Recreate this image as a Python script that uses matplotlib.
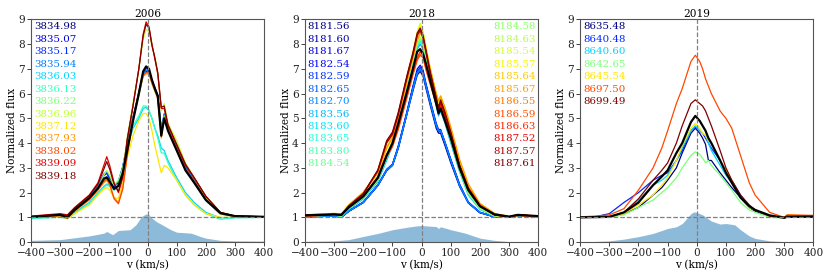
import numpy as np
import matplotlib
matplotlib.use("Agg")
import matplotlib.pyplot as plt

plt.rcParams['font.family'] = ['DejaVu Serif']
plt.rcParams['font.size'] = 7.4

# ---------------- 2006 ----------------
v06 = [-400, -300, -275, -250, -200, -170, -150, -140, -130, -115, -100, -85, -70, -50, -30, -15, -5,
       5, 15, 25, 35, 47, 57, 70, 100, 130, 160, 200, 250, 300, 400]
labels06 = ["3834.98", "3835.07", "3835.17", "3835.94", "3836.03", "3836.13", "3836.22",
            "3836.96", "3837.12", "3837.93", "3838.02", "3839.09", "3839.18"]
f06_3834_98 = [1.02, 1.1, 1.02, 1.3, 1.8, 2.25, 2.7, 2.8, 2.6, 2.25, 2.4, 3.0, 3.9, 5.0, 6.0, 6.8, 6.95, 6.9, 6.5, 6.2, 5.9, 4.5, 5.1, 4.6, 3.8, 3.0, 2.45, 1.7, 1.15, 1.05, 1.02]
f06_3835_07 = [1.03, 1.1, 1.03, 1.32, 1.82, 2.28, 2.72, 2.85, 2.62, 2.28, 2.45, 3.05, 3.95, 5.05, 6.05, 6.9, 7.05, 6.95, 6.55, 6.25, 5.95, 4.4, 5.15, 4.65, 3.85, 3.05, 2.5, 1.72, 1.15, 1.05, 1.03]
f06_3835_17 = [1.02, 1.08, 1.0, 1.28, 1.78, 2.22, 2.68, 2.78, 2.55, 2.2, 2.38, 2.98, 3.88, 4.95, 5.95, 6.75, 6.9, 6.85, 6.45, 6.15, 5.85, 4.45, 5.05, 4.55, 3.78, 2.98, 2.42, 1.68, 1.14, 1.04, 1.02]
f06_3835_94 = [1.02, 1.1, 1.02, 1.3, 1.82, 2.3, 2.75, 2.85, 2.65, 2.3, 2.45, 3.05, 3.95, 5.0, 6.0, 6.8, 6.95, 6.9, 6.5, 6.2, 5.9, 4.6, 5.2, 4.7, 3.85, 3.05, 2.5, 1.72, 1.16, 1.05, 1.02]
f06_3836_03 = [1.0, 1.05, 1.0, 1.2, 1.6, 2.0, 2.25, 2.35, 2.3, 2.1, 2.3, 2.9, 3.8, 4.6, 5.0, 5.4, 5.45, 5.3, 5.0, 4.6, 4.3, 3.8, 3.7, 3.3, 2.6, 2.0, 1.6, 1.2, 0.98, 1.0, 1.0]
f06_3836_13 = [0.95, 1.0, 0.95, 1.15, 1.55, 1.95, 2.2, 2.3, 2.25, 2.1, 2.3, 2.9, 3.8, 4.7, 5.1, 5.5, 5.5, 5.3, 5.0, 4.6, 4.2, 3.6, 3.6, 3.2, 2.5, 1.9, 1.5, 1.15, 0.92, 0.98, 1.0]
f06_3836_22 = [1.02, 1.08, 1.02, 1.28, 1.75, 2.2, 2.5, 2.6, 2.5, 2.3, 2.5, 3.0, 3.9, 5.0, 5.9, 6.7, 6.85, 6.8, 6.4, 6.1, 5.8, 4.5, 5.1, 4.6, 3.75, 2.95, 2.4, 1.68, 1.12, 1.03, 1.02]
f06_3836_96 = [1.05, 1.1, 1.05, 1.3, 1.8, 2.2, 2.7, 2.9, 2.7, 2.3, 2.3, 2.9, 4.2, 5.6, 7.0, 8.2, 8.6, 8.5, 7.9, 7.5, 6.8, 5.3, 5.6, 4.8, 4.1, 3.2, 2.6, 1.8, 1.2, 1.05, 1.03]
f06_3837_12 = [1.0, 1.02, 0.98, 1.15, 1.5, 1.9, 2.15, 2.2, 2.1, 1.8, 1.75, 2.4, 3.4, 4.3, 4.9, 5.2, 5.2, 5.0, 4.5, 3.9, 3.4, 2.8, 3.1, 3.0, 2.5, 1.9, 1.5, 1.15, 1.0, 1.0, 1.0]
f06_3837_93 = [1.0, 1.05, 0.95, 1.25, 1.7, 2.1, 2.4, 2.5, 2.3, 1.8, 1.6, 2.2, 3.5, 4.9, 6.0, 6.7, 6.8, 6.8, 6.4, 6.1, 5.8, 4.2, 5.0, 4.5, 3.7, 2.9, 2.4, 1.7, 1.15, 1.03, 1.02]
f06_3838_02 = [1.02, 1.08, 0.98, 1.28, 1.72, 2.12, 2.45, 2.55, 2.35, 1.75, 1.55, 2.15, 3.5, 4.95, 6.05, 6.75, 6.85, 6.85, 6.45, 6.15, 5.85, 4.3, 5.05, 4.55, 3.75, 2.95, 2.45, 1.72, 1.16, 1.04, 1.02]
f06_3839_09 = [1.05, 1.15, 1.1, 1.4, 1.9, 2.4, 3.1, 3.45, 3.1, 2.4, 2.0, 2.6, 4.1, 5.5, 7.0, 8.4, 8.9, 8.7, 8.0, 7.4, 6.8, 5.4, 5.4, 4.7, 3.9, 3.1, 2.6, 1.85, 1.2, 1.05, 1.02]
f06_3839_18 = [1.04, 1.12, 1.08, 1.38, 1.88, 2.35, 2.95, 3.25, 2.95, 2.35, 2.05, 2.7, 4.15, 5.5, 7.0, 8.35, 8.8, 8.65, 7.95, 7.45, 6.85, 5.45, 5.5, 4.75, 3.95, 3.15, 2.6, 1.85, 1.2, 1.05, 1.02]
mean06 = [1.01, 1.1, 1.0, 1.3, 1.78, 2.18, 2.56, 2.62, 2.45, 2.15, 2.27, 2.8, 3.7, 4.9, 6.0, 6.9, 7.1, 7.0, 6.55, 6.2, 5.9, 4.3, 5.0, 4.5, 3.7, 2.9, 2.4, 1.7, 1.17, 1.05, 1.02]
series06 = [f06_3834_98, f06_3835_07, f06_3835_17, f06_3835_94, f06_3836_03, f06_3836_13, f06_3836_22,
            f06_3836_96, f06_3837_12, f06_3837_93, f06_3838_02, f06_3839_09, f06_3839_18]
vfill06 = [-400, -300, -200, -150, -140, -120, -100, -60, -40, -20, -5, 5, 15, 30, 50, 80, 100, 150, 180, 200, 250, 300, 400]
fill06 = [0.07, 0.1, 0.25, 0.36, 0.43, 0.3, 0.47, 0.5, 0.7, 1.04, 1.14, 1.1, 0.97, 0.83, 0.7, 0.5, 0.4, 0.36, 0.23, 0.16, 0.07, 0.05, 0.04]

# ---------------- 2018 ----------------
v18 = [-400, -300, -275, -250, -200, -150, -120, -100, -80, -50, -30, -15, -5, 5, 15, 30, 50, 58, 65, 80,
       100, 130, 160, 200, 250, 300, 330, 400]
labels18 = ["8181.56", "8181.60", "8181.67", "8182.54", "8182.59", "8182.65", "8182.70", "8183.56",
            "8183.60", "8183.65", "8183.80", "8184.54", "8184.58", "8184.63", "8185.54", "8185.57",
            "8185.64", "8185.67", "8186.55", "8186.59", "8186.63", "8187.52", "8187.57", "8187.61"]
f18_8181_56 = [1.02, 1.05, 1.02, 1.25, 1.6, 2.3, 2.9, 3.1, 3.8, 5.2, 6.1, 6.75, 6.9, 6.7, 6.2, 5.5, 4.6, 4.4, 4.4, 3.9, 3.2, 2.25, 1.58, 1.18, 1.02, 1.0, 1.05, 1.03]
f18_8181_60 = [1.02, 1.06, 1.03, 1.26, 1.62, 2.32, 2.92, 3.12, 3.85, 5.25, 6.25, 6.9, 7.05, 6.85, 6.35, 5.65, 4.75, 4.5, 4.5, 4.0, 3.3, 2.3, 1.6, 1.2, 1.02, 1.0, 1.05, 1.03]
f18_8181_67 = [1.03, 1.05, 1.02, 1.25, 1.6, 2.3, 2.88, 3.1, 3.8, 5.2, 6.2, 6.85, 7.0, 6.8, 6.3, 5.6, 4.7, 4.45, 4.5, 4.0, 3.3, 2.3, 1.6, 1.2, 1.02, 1.0, 1.05, 1.03]
f18_8182_54 = [1.02, 1.05, 1.0, 1.24, 1.6, 2.28, 2.9, 3.15, 3.9, 5.3, 6.3, 7.0, 7.15, 6.95, 6.4, 5.7, 4.8, 4.55, 4.55, 4.05, 3.35, 2.35, 1.62, 1.2, 1.02, 1.0, 1.05, 1.03]
f18_8182_59 = [1.02, 1.05, 1.02, 1.25, 1.62, 2.3, 2.92, 3.12, 3.85, 5.25, 6.22, 6.88, 7.05, 6.85, 6.32, 5.62, 4.72, 4.5, 4.52, 4.02, 3.32, 2.32, 1.6, 1.2, 1.02, 1.0, 1.05, 1.03]
f18_8182_65 = [1.02, 1.05, 1.02, 1.26, 1.62, 2.32, 2.95, 3.15, 3.85, 5.2, 6.15, 6.8, 6.95, 6.8, 6.3, 5.6, 4.7, 4.48, 4.5, 4.0, 3.3, 2.3, 1.6, 1.2, 1.02, 1.0, 1.05, 1.03]
f18_8182_70 = [1.02, 1.05, 1.02, 1.25, 1.6, 2.3, 2.9, 3.1, 3.82, 5.22, 6.2, 6.85, 7.0, 6.82, 6.3, 5.62, 4.72, 4.5, 4.5, 4.02, 3.3, 2.3, 1.6, 1.2, 1.02, 1.0, 1.05, 1.03]
f18_8183_56 = [1.04, 1.08, 1.04, 1.32, 1.75, 2.45, 3.3, 3.9, 4.7, 6.2, 7.1, 7.8, 8.0, 7.8, 7.3, 6.5, 5.5, 5.1, 5.3, 4.8, 4.0, 2.85, 1.9, 1.32, 1.05, 1.0, 1.08, 1.05]
f18_8183_60 = [1.05, 1.1, 1.05, 1.35, 1.8, 2.5, 3.4, 4.0, 4.8, 6.3, 7.2, 7.9, 8.1, 7.9, 7.4, 6.6, 5.6, 5.2, 5.4, 4.9, 4.1, 2.9, 1.95, 1.35, 1.05, 1.0, 1.08, 1.05]
f18_8183_65 = [1.05, 1.1, 1.05, 1.35, 1.8, 2.5, 3.4, 4.0, 4.85, 6.35, 7.3, 8.0, 8.2, 8.0, 7.45, 6.65, 5.6, 5.2, 5.4, 4.9, 4.1, 2.9, 1.95, 1.35, 1.05, 1.0, 1.08, 1.05]
f18_8183_80 = [1.05, 1.1, 1.05, 1.35, 1.8, 2.5, 3.45, 4.05, 4.85, 6.4, 7.35, 8.05, 8.25, 8.05, 7.5, 6.7, 5.65, 5.25, 5.45, 4.95, 4.15, 2.95, 1.98, 1.36, 1.06, 1.0, 1.08, 1.05]
f18_8184_54 = [1.05, 1.1, 1.05, 1.35, 1.8, 2.5, 3.4, 4.0, 4.8, 6.3, 7.25, 7.95, 8.15, 7.95, 7.4, 6.6, 5.6, 5.2, 5.4, 4.9, 4.1, 2.9, 1.95, 1.35, 1.05, 1.0, 1.08, 1.05]
f18_8184_58 = [1.06, 1.1, 1.06, 1.38, 1.85, 2.55, 3.5, 4.05, 4.9, 6.4, 7.35, 8.05, 8.25, 8.05, 7.5, 6.7, 5.7, 5.3, 5.5, 5.0, 4.2, 3.0, 2.0, 1.38, 1.06, 1.0, 1.08, 1.05]
f18_8184_63 = [1.06, 1.1, 1.06, 1.38, 1.85, 2.6, 3.5, 4.1, 4.95, 6.45, 7.4, 8.1, 8.3, 8.1, 7.55, 6.75, 5.75, 5.35, 5.55, 5.05, 4.25, 3.05, 2.05, 1.4, 1.07, 1.0, 1.08, 1.05]
f18_8185_54 = [1.1, 1.15, 1.15, 1.5, 2.0, 2.8, 3.8, 4.3, 5.1, 6.7, 7.7, 8.5, 8.85, 8.5, 7.9, 7.0, 6.0, 5.7, 5.9, 5.4, 4.6, 3.3, 2.3, 1.55, 1.15, 1.03, 1.1, 1.05]
f18_8185_57 = [1.1, 1.15, 1.12, 1.48, 1.98, 2.78, 3.75, 4.25, 5.05, 6.65, 7.65, 8.45, 8.75, 8.45, 7.85, 6.95, 5.95, 5.65, 5.85, 5.35, 4.55, 3.25, 2.28, 1.52, 1.14, 1.03, 1.1, 1.05]
f18_8185_64 = [1.1, 1.15, 1.15, 1.5, 2.0, 2.8, 3.8, 4.2, 5.0, 6.5, 7.5, 8.2, 8.5, 8.3, 7.8, 7.0, 6.0, 5.7, 5.9, 5.4, 4.6, 3.3, 2.3, 1.55, 1.15, 1.03, 1.1, 1.0]
f18_8185_67 = [1.1, 1.16, 1.14, 1.5, 2.02, 2.82, 3.82, 4.22, 5.02, 6.5, 7.45, 8.15, 8.45, 8.25, 7.75, 6.95, 6.0, 5.7, 5.9, 5.45, 4.65, 3.35, 2.35, 1.56, 1.16, 1.03, 1.1, 1.0]
f18_8186_55 = [1.05, 1.1, 1.1, 1.4, 1.85, 2.6, 3.5, 3.9, 4.6, 5.9, 6.8, 7.4, 7.6, 7.5, 7.0, 6.4, 5.6, 5.3, 5.5, 5.0, 4.3, 3.1, 2.2, 1.5, 1.1, 1.02, 1.08, 1.03]
f18_8186_59 = [1.05, 1.1, 1.08, 1.4, 1.85, 2.6, 3.45, 3.85, 4.55, 5.85, 6.75, 7.35, 7.55, 7.45, 6.95, 6.35, 5.55, 5.25, 5.45, 4.95, 4.25, 3.05, 2.15, 1.48, 1.1, 1.02, 1.08, 1.03]
f18_8186_63 = [1.05, 1.1, 1.1, 1.42, 1.88, 2.65, 3.55, 3.95, 4.65, 5.95, 6.85, 7.45, 7.7, 7.55, 7.05, 6.45, 5.65, 5.35, 5.55, 5.05, 4.35, 3.1, 2.2, 1.5, 1.1, 1.02, 1.08, 1.03]
f18_8187_52 = [1.08, 1.12, 1.1, 1.45, 1.95, 2.9, 4.05, 4.4, 5.2, 6.7, 7.6, 8.4, 8.6, 8.3, 7.7, 6.8, 5.8, 5.4, 5.7, 5.2, 4.4, 3.1, 2.15, 1.45, 1.1, 1.02, 1.1, 1.05]
f18_8187_57 = [1.08, 1.12, 1.1, 1.45, 1.95, 2.88, 4.0, 4.35, 5.15, 6.65, 7.55, 8.35, 8.55, 8.25, 7.65, 6.75, 5.75, 5.38, 5.65, 5.15, 4.38, 3.08, 2.12, 1.44, 1.1, 1.02, 1.1, 1.05]
f18_8187_61 = [1.08, 1.12, 1.1, 1.46, 1.96, 2.92, 4.1, 4.45, 5.25, 6.75, 7.65, 8.45, 8.65, 8.35, 7.75, 6.85, 5.85, 5.45, 5.75, 5.25, 4.45, 3.12, 2.18, 1.46, 1.1, 1.02, 1.1, 1.05]
mean18 = [1.08, 1.12, 1.1, 1.4, 1.85, 2.6, 3.5, 4.0, 4.8, 6.1, 7.0, 7.7, 7.8, 7.6, 7.2, 6.5, 5.6, 5.2, 5.4, 4.9, 4.2, 3.0, 2.1, 1.45, 1.12, 1.03, 1.1, 1.05]
series18 = [f18_8181_56, f18_8181_60, f18_8181_67, f18_8182_54, f18_8182_59, f18_8182_65, f18_8182_70,
            f18_8183_56, f18_8183_60, f18_8183_65, f18_8183_80, f18_8184_54, f18_8184_58, f18_8184_63,
            f18_8185_54, f18_8185_57, f18_8185_64, f18_8185_67, f18_8186_55, f18_8186_59, f18_8186_63,
            f18_8187_52, f18_8187_57, f18_8187_61]
vfill18 = [-400, -300, -250, -200, -150, -100, -50, -20, 0, 20, 50, 58, 65, 100, 150, 200, 250, 300, 400]
fill18 = [0.03, 0.05, 0.1, 0.23, 0.35, 0.5, 0.6, 0.65, 0.67, 0.65, 0.63, 0.55, 0.62, 0.5, 0.36, 0.16, 0.07, 0.02, 0.01]

# ---------------- 2019 ----------------
v19 = [-400, -350, -300, -250, -200, -150, -120, -100, -70, -50, -20, -5, 10, 20, 30, 40, 50, 80, 100,
       120, 150, 180, 200, 250, 300, 310, 400]
labels19 = ["8635.48", "8640.48", "8640.60", "8642.65", "8645.54", "8697.50", "8699.49"]
f19_8635_48 = [1.0, 1.02, 1.0, 1.15, 1.4, 1.9, 2.2, 2.5, 3.0, 3.6, 4.4, 4.6, 4.4, 4.2, 3.95, 3.3, 3.3, 2.8, 2.5, 2.2, 1.8, 1.4, 1.25, 1.05, 1.0, 1.0, 1.0]
f19_8640_48 = [1.0, 1.02, 1.15, 1.6, 2.0, 2.5, 2.7, 2.8, 3.3, 3.7, 4.5, 4.65, 4.5, 4.4, 4.2, 4.0, 3.8, 3.3, 2.9, 2.5, 1.9, 1.45, 1.3, 1.05, 1.0, 1.0, 1.0]
f19_8640_60 = [1.0, 1.0, 1.02, 1.2, 1.7, 2.3, 2.5, 2.7, 3.3, 3.8, 4.5, 4.7, 4.5, 4.4, 4.3, 4.0, 3.7, 3.1, 2.7, 2.4, 1.8, 1.4, 1.3, 1.05, 1.0, 1.0, 1.0]
f19_8642_65 = [1.0, 1.0, 1.0, 1.1, 1.4, 1.7, 2.0, 2.2, 2.6, 3.0, 3.5, 3.65, 3.55, 3.4, 3.2, 3.3, 3.1, 2.7, 2.4, 2.1, 1.6, 1.3, 1.2, 1.0, 0.98, 1.0, 1.0]
f19_8645_54 = [1.0, 1.0, 1.0, 1.15, 1.5, 1.9, 2.3, 2.6, 3.3, 3.9, 4.6, 4.8, 4.6, 4.4, 4.3, 4.1, 4.0, 3.3, 2.9, 2.5, 1.8, 1.4, 1.3, 1.05, 1.0, 1.1, 1.05]
f19_8697_50 = [1.02, 1.05, 1.1, 1.35, 2.1, 3.0, 3.8, 4.5, 5.6, 6.2, 7.3, 7.55, 7.3, 7.0, 6.6, 6.3, 6.0, 5.3, 5.0, 4.6, 3.5, 2.4, 1.9, 1.2, 1.0, 1.1, 1.08]
f19_8699_49 = [1.0, 1.0, 1.02, 1.2, 1.75, 2.5, 2.9, 3.2, 4.0, 4.7, 5.6, 5.75, 5.6, 5.5, 5.3, 5.0, 4.7, 3.7, 3.0, 2.5, 1.9, 1.5, 1.3, 1.05, 1.0, 1.0, 1.0]
mean19 = [1.0, 1.01, 1.02, 1.2, 1.6, 2.3, 2.65, 2.9, 3.6, 4.0, 4.85, 5.1, 4.9, 4.7, 4.5, 4.2, 4.0, 3.3, 2.8, 2.4, 1.8, 1.45, 1.3, 1.08, 0.98, 1.03, 1.03]
series19 = [f19_8635_48, f19_8640_48, f19_8640_60, f19_8642_65, f19_8645_54, f19_8697_50, f19_8699_49]
vfill19 = [-400, -300, -250, -200, -150, -100, -70, -50, -20, -10, 0, 20, 50, 80, 100, 130, 150, 180, 200, 250, 300, 400]
fill19 = [0.0, 0.05, 0.12, 0.22, 0.35, 0.55, 0.62, 0.75, 1.15, 1.22, 1.2, 1.1, 0.85, 0.73, 0.75, 0.7, 0.5, 0.25, 0.15, 0.05, 0.02, 0.0]

titles = ["2006", "2018", "2019"]
panels = [
    (v06, series06, labels06, mean06, vfill06, fill06),
    (v18, series18, labels18, mean18, vfill18, fill18),
    (v19, series19, labels19, mean19, vfill19, fill19),
]

fig = plt.figure(figsize=(8.3, 2.77), dpi=100)
lefts = [0.0373, 0.3675, 0.699]
for k, (v, series, labels, mean, vf, ff) in enumerate(panels):
    ax = fig.add_axes([lefts[k], 0.126, 0.281, 0.804])
    ax.fill_between(vf, 0, ff, color='#1f77b4', alpha=0.5, lw=0, zorder=1)
    n = len(series)
    cols = plt.cm.jet(np.linspace(0, 1, n))
    for i, s in enumerate(series):
        ax.plot(v, s, color=cols[i], lw=0.9, zorder=2)
    ax.plot(v, mean, color='black', lw=1.6, zorder=3)
    ax.axhline(1, color='grey', ls='--', lw=0.9, zorder=4)
    ax.axvline(0, color='grey', ls='--', lw=0.9, zorder=4)
    ax.set_xlim(-400, 400)
    ax.set_ylim(0, 9)
    ax.set_xticks(range(-400, 401, 100))
    ax.set_yticks(range(0, 10))
    ax.set_title(titles[k], fontsize=7.6, pad=2)
    ax.set_xlabel("v (km/s)", labelpad=1, fontsize=7.6)
    ax.set_ylabel("Normalized flux", labelpad=1, fontsize=7.6)
    ax.tick_params(length=3, width=0.6, pad=1.5, colors='#222222', labelsize=7.6)
    for sp in ax.spines.values():
        sp.set_color('#555555')
        sp.set_linewidth(0.8)
    step = 0.056
    if n > 13:
        half = n // 2
        for i in range(n):
            if i < half:
                ax.text(0.012, 0.967 - i * step, labels[i], color=cols[i], transform=ax.transAxes,
                        ha='left', va='center', fontsize=7.4)
            else:
                ax.text(0.99, 0.967 - (i - half) * step, labels[i], color=cols[i], transform=ax.transAxes,
                        ha='right', va='center', fontsize=7.4)
    else:
        for i in range(n):
            ax.text(0.012, 0.967 - i * step, labels[i], color=cols[i], transform=ax.transAxes,
                    ha='left', va='center', fontsize=7.4)

fig.savefig("out.png", dpi=100)
